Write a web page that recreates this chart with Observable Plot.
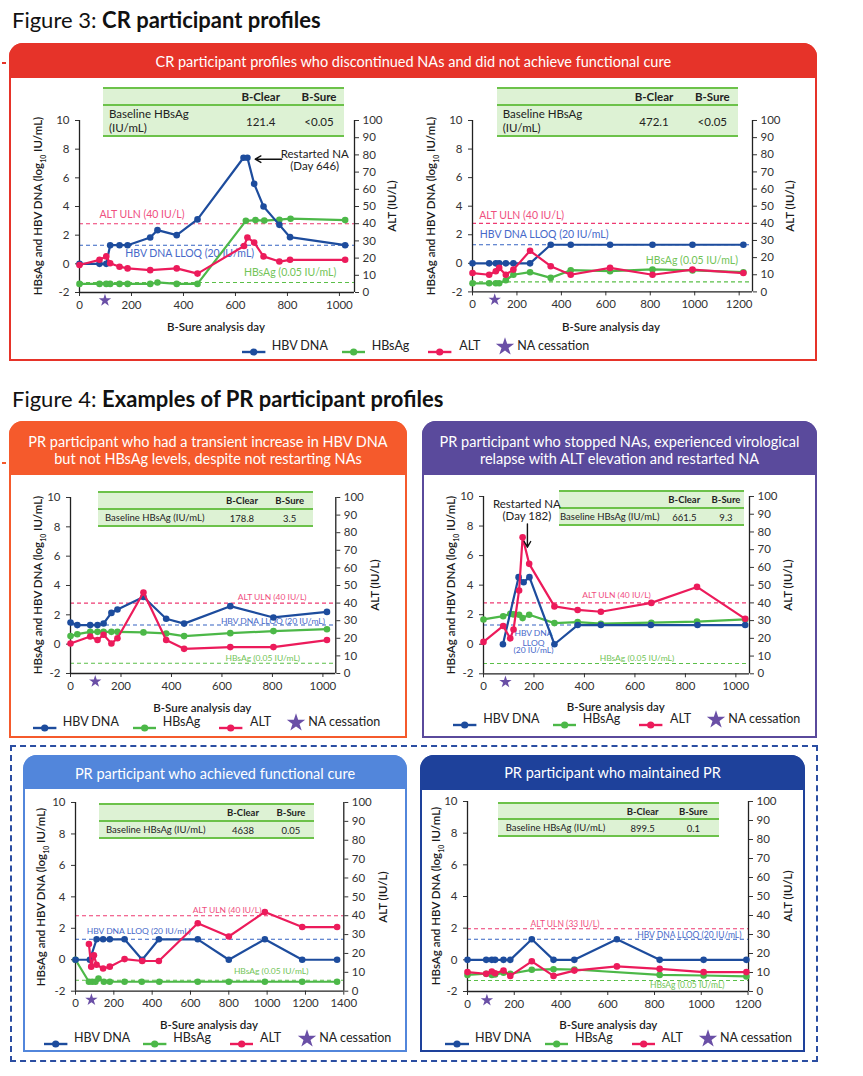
<!DOCTYPE html>
<html><head><meta charset="utf-8">
<script src="https://cdn.jsdelivr.net/npm/d3@7"></script>
<script src="https://cdn.jsdelivr.net/npm/@observablehq/plot@0.6"></script>
<style>
body{margin:0;background:#fff;font-family:Lato,"Noto Sans",sans-serif;}
#root{position:relative;width:863px;height:1076px;overflow:hidden;background:#fff;}
</style></head>
<body><div id="root"></div>
<script>
// ---------------- DATA ----------------
// Panel 1: CR participant (left)
const p1DnaDays = [0,77,103,118,154,185,272,300,374,454,631,646,672,708,769,810,1022];
const p1Dna     = [0,0,0,1.3,1.3,1.3,1.84,2.35,2.0,3.1,7.4,7.4,5.58,4.0,2.72,1.86,1.3];
const p1HbsDays = [0,77,103,118,154,185,272,300,374,454,640,677,711,769,812,1022];
const p1Hbs     = [-1.4,-1.4,-1.4,-1.4,-1.4,-1.4,-1.4,-1.3,-1.4,-1.4,3.0,3.05,3.02,3.08,3.15,3.05];
const p1AltDays = [0,77,103,118,154,185,272,374,454,633,646,672,708,769,810,1022];
const p1Alt     = [16,19,21,17,15,14,13,14,11,27,32,29,21,18,19,19];
// Panel 2: CR participant (right)
const p2Days    = [0,75,105,120,150,184,259,352,442,619,810,990,1219];
const p2Dna     = [0,0,0,0,0,0,0,1.3,1.3,1.3,1.3,1.3,1.3];
const p2Hbs     = [-1.4,-1.4,-1.4,-1.4,-1.18,-0.8,-0.62,-1.02,-0.48,-0.55,-0.43,-0.5,-0.62];
const p2Alt     = [11,10,12,14,10,13,24,15,10,14,10,13,11];
// Panel 3: PR transient increase
const p3Days    = [0,27,78,107,131,162,186,289,379,450,633,804,1016];
const p3Dna     = [1.48,1.3,1.3,1.3,1.41,2.13,2.36,3.22,1.73,1.4,2.59,1.82,2.2];
const p3Hbs     = [0.55,0.68,0.84,0.84,0.84,0.84,0.84,0.8,0.73,0.55,0.75,0.89,1.02];
const p3AltDays = [0,78,107,131,162,186,289,379,450,633,804,1016];
const p3Alt     = [17,21,19,22,17,20,46,19,14,15,15,19];
// Panel 4: PR relapse, restarted NA
const p4DnaDays = [77,139,159,182,281,373,465,663,848,1037];
const p4Dna     = [0,4.54,4.2,4.54,0,1.3,1.3,1.3,1.3,1.3];
const p4Days    = [0,78,106,119,141,155,181,281,373,465,665,846,1037];
const p4Hbs     = [1.68,1.9,2.06,2.02,2.0,1.77,2.0,1.43,1.5,1.39,1.46,1.53,1.68];
const p4Alt     = [18,27,20,25,47,77,62,38,36,35,40,49,31];
// Panel 5: PR functional cure
const p5DnaDays = [0,75,110,144,179,256,348,435,638,800,988,1183,1365];
const p5Dna     = [0,0,1.3,1.3,1.3,1.3,0,1.3,1.3,0,1.3,0,0];
const p5HbsDays = [0,70,87,104,120,148,179,256,346,437,638,800,988,1183,1365];
const p5Hbs     = [0,-1.4,-1.4,-1.4,-1.2,-1.4,-1.4,-1.4,-1.4,-1.4,-1.4,-1.4,-1.4,-1.4,-1.4];
const p5AltDays = [70,82,96,110,144,179,256,348,435,638,800,988,1183,1365];
const p5Alt     = [25,13,19,14,12,13,17,16,16,36,29,42,34,34];
// Panel 6: PR maintained
const p6Days    = [0,80,104,118,154,183,275,368,457,639,822,1010,1193];
const p6Dna     = [0,0,0,0,0,0,1.3,0,0,1.3,0,0,0];
const p6HbsDays = [0,80,104,118,154,183,275,368,457,822,1010,1193];
const p6Hbs     = [-0.95,-0.88,-0.95,-0.92,-0.82,-0.88,-0.63,-0.59,-0.61,-0.95,-0.99,-1.05];
const p6Alt     = [10.2,9.3,10.5,9.6,11,8.2,15.9,8.2,11,13.2,11.9,10.2,10.2];
// NA cessation day per panel
const starDays  = [98,100,98,87,83,83];
// ALT ULN per panel (IU/L)
const altUln    = [40,40,40,40,40,33];
// Baseline HBsAg table values
const tableClear = ["121.4","472.1","178.8","661.5","4638","899.5"];
const tableSure  = ["<0.05","<0.05","3.5","9.3","0.05","0.1"];
// tick labels
const leftTicks = [-2,0,2,4,6,8,10];
const altTicks  = [0,10,20,30,40,50,60,70,80,90,100];
const xTicks1000 = [0,200,400,600,800,1000];
const xTicks1200 = [0,200,400,600,800,1000,1200];
const xTicks1400 = [0,200,400,600,800,1000,1200,1400];
const legendLabels = ["HBV DNA","HBsAg","ALT","NA cessation"];
// --------------------------------------

const FONT = 'Lato, "Noto Sans", sans-serif';
const BLUE="#1d4c9d", GREEN="#4cb848", PINK="#ec1b5b", PURPLE="#6a4fa6";
const C_ULN="#ee3a72", C_LLOQ="#3563c2", C_HBS="#5bbf48";
const L_ULN="#f0507f", L_LLOQ="#4769c9", L_HBS="#72c457";
const root = document.getElementById("root");
function div(style, html){const d=document.createElement("div");d.style.cssText="position:absolute;"+style;if(html!=null)d.innerHTML=html;root.appendChild(d);return d;}
const toY = a => -2 + a*0.12;

// titles
div(`left:12px;top:7px;font-size:22px;line-height:26px;color:#111;white-space:nowrap;`, `Figure 3: <b>CR participant profiles</b>`);
div(`left:12px;top:386px;font-size:22px;line-height:26px;color:#111;white-space:nowrap;`, `Figure 4: <b>Examples of PR participant profiles</b>`);
div(`left:2px;top:62px;width:4px;height:1.5px;background:#e63329;`);
div(`left:2px;top:462px;width:4px;height:1.5px;background:#f55a2c;`);

// dashed group box
div(`left:10px;top:745px;width:808px;height:317px;box-sizing:border-box;border:2.5px dashed #2b4ea2;`);

function box(l,t,r,b,hb,color,lines,ty){
  div(`left:${l}px;top:${t}px;width:${r-l}px;height:${b-t}px;box-sizing:border-box;border:2.5px solid ${color};border-radius:14px 14px 0 0;background:#fff;`);
  div(`left:${l}px;top:${t}px;width:${r-l}px;height:${hb-t}px;background:${color};border-radius:14px 14px 0 0;`);
  lines.forEach((s,i)=>div(`left:${l}px;width:${r-l}px;top:${ty[i]-10}px;height:20px;line-height:20px;text-align:center;color:#fff;font-size:14.5px;white-space:nowrap;`, s));
}
box(9.3,42.7,817.3,361,77.7,"#e63329",["CR participant profiles who discontinued NAs and did not achieve functional cure"],[62]);
box(9.3,420.7,406.7,738.3,475,"#f55a2c",["PR participant who had a transient increase in HBV DNA","but not HBsAg levels, despite not restarting NAs"],[441.7,459.3]);
box(421.7,420.7,817.3,738.3,475,"#5a4a9c",["PR participant who stopped NAs, experienced virological","relapse with ALT elevation and restarted NA"],[441.7,459.3]);
box(22.7,755,407.3,1052.3,789.3,"#5286db",["PR participant who achieved functional cure"],[774]);
box(420,755,805,1052.3,790,"#1e419b",["PR participant who maintained PR"],[773.3]);

function cell(txt,cx,cy,style){div(`left:${cx}px;top:${cy}px;transform:translate(-50%,-50%);white-space:nowrap;${style}`,txt);}
function table(t,i){
  const G="#6cc24a";
  div(`left:${t.l}px;top:${t.t}px;width:${t.r-t.l}px;height:${t.b-t.t}px;background:#ddf2d4;box-sizing:border-box;border-top:2px solid ${G};border-bottom:2px solid ${G};`);
  div(`left:${t.l}px;top:${t.hb-1}px;width:${t.r-t.l}px;height:2px;background:${G};`);
  const fs=t.fs, hy=(t.t+t.hb)/2, by=(t.hb+t.b)/2;
  cell("B-Clear",t.c1,hy,`font-size:${fs}px;font-weight:700;color:#222;`);
  cell("B-Sure",t.c2,hy,`font-size:${fs}px;font-weight:700;color:#222;`);
  if(t.two){
    div(`left:${t.lx}px;top:${by-14}px;font-size:${fs}px;line-height:14px;color:#222;white-space:nowrap;`,"Baseline HBsAg<br>(IU/mL)");
  } else {
    div(`left:${t.lx}px;top:${by-8}px;font-size:${fs}px;line-height:16px;color:#222;white-space:nowrap;`,"Baseline HBsAg (IU/mL)");
  }
  cell(tableClear[i],t.c1,by,`font-size:${fs}px;color:#222;`);
  cell(tableSure[i].replace("<","&lt;"),t.c2,by,`font-size:${fs}px;color:#222;`);
}

function chart(c,i){
  const mL=50,mR=50,mT=14,mB=30;
  const w=c.x1-c.x0, h=c.y1-c.y0;
  const dna=c.dnaDays.map((d,k)=>({day:d,v:c.dna[k]}));
  const hbs=c.hbsDays.map((d,k)=>({day:d,v:c.hbs[k]}));
  const alt=c.altDays.map((d,k)=>({day:d,v:toY(c.alt[k])}));
  const dash={strokeWidth:1.1,strokeDasharray:"4,3"};
  const colorOf={uln:L_ULN,lloq:L_LLOQ,hbs:L_HBS,note:"#222"};
  const marks=[
    Plot.ruleY([toY(altUln[i])],{stroke:C_ULN,...dash}),
    Plot.ruleY([Math.log10(20)],{stroke:C_LLOQ,...dash}),
    Plot.ruleY([Math.log10(0.05)],{stroke:C_HBS,...dash}),
    ...c.labels.map(l=>Plot.text([l],{x:"day",y:"v",text:"text",fill:colorOf[l.kind],textAnchor:l.anchor||"middle",fontSize:l.kind==="note"?c.noteSize:c.lblSize})),
    Plot.axisY(leftTicks,{anchor:"left",tickSize:4,tickPadding:6,tickFormat:d=>String(d),label:null,fontSize:11.5}),
    Plot.axisY(altTicks.map(toY),{anchor:"right",tickSize:4,tickPadding:4,tickFormat:d=>String(Math.round((d+2)/0.12)),label:null,fontSize:11.5}),
    Plot.axisX(c.xticks,{anchor:"bottom",tickSize:4,tickPadding:4,tickFormat:d=>String(d),label:null,fontSize:11.5}),
    Plot.ruleX([0],{stroke:"#222",strokeWidth:1.3}),
    Plot.ruleX([c.xmax],{stroke:"#222",strokeWidth:1.3}),
    Plot.ruleY([-2],{stroke:"#222",strokeWidth:1.3}),
    Plot.line(hbs,{x:"day",y:"v",stroke:GREEN,strokeWidth:2.2}),
    Plot.dot(hbs,{x:"day",y:"v",fill:GREEN,r:3.3}),
    Plot.line(dna,{x:"day",y:"v",stroke:BLUE,strokeWidth:2.2}),
    Plot.dot(dna,{x:"day",y:"v",fill:BLUE,r:3.3}),
    Plot.line(alt,{x:"day",y:"v",stroke:PINK,strokeWidth:2.2}),
    Plot.dot(alt,{x:"day",y:"v",fill:PINK,r:3.3}),
    Plot.dot([{day:starDays[i],v:-2.55}],{x:"day",y:"v",symbol:"star",fill:PURPLE,r:3.9}),
  ];
  if(c.arrows) marks.push(Plot.arrow(c.arrows,{x1:"xa",y1:"ya",x2:"xb",y2:"yb",stroke:"#111",strokeWidth:1.4,headLength:7}));
  const svg=Plot.plot({width:w+mL+mR,height:h+mT+mB,marginLeft:mL,marginRight:mR,marginTop:mT,marginBottom:mB,
    x:{domain:[0,c.xmax],axis:null},y:{domain:[-2,10],axis:null},
    style:{fontFamily:FONT,fontSize:"11.5px",color:"#333",background:"transparent",overflow:"visible"},marks});
  svg.style.position="absolute";svg.style.left=(c.x0-mL)+"px";svg.style.top=(c.y0-mT)+"px";
  root.appendChild(svg);
  // axis titles
  const cy=(c.y0+c.y1)/2;
  const ts="font-size:11.5px;font-weight:600;color:#1a1a1a;white-space:nowrap;";
  cell(`HBsAg and HBV DNA (log<sub style="font-size:7px;">10</sub> IU/mL)`,c.ltx,cy,ts+"transform:translate(-50%,-50%) rotate(-90deg);");
  cell(`ALT (IU/L)`,c.rtx,cy,ts+"transform:translate(-50%,-50%) rotate(-90deg);");
  cell(`B-Sure analysis day`,c.xtx,c.xty,ts);
}

function legend(y,xs){
  const kinds=[BLUE,GREEN,PINK];
  for(let k=0;k<3;k++){
    const [a,b,t]=xs[k];
    div(`left:${a}px;top:${y-5}px;width:${b-a}px;height:10px;`,`<svg width="${b-a}" height="10"><line x1="0" y1="5" x2="${b-a}" y2="5" stroke="${kinds[k]}" stroke-width="2.4"/><circle cx="${(b-a)/2}" cy="5" r="3.6" fill="${kinds[k]}"/></svg>`);
    div(`left:${t}px;top:${y-9}px;font-size:12.5px;line-height:18px;color:#222;white-space:nowrap;`,legendLabels[k]);
  }
  const [sc,st]=xs[3];
  const p=d3.symbol(d3.symbolStar,105)();
  div(`left:${sc-10}px;top:${y-10}px;width:20px;height:20px;`,`<svg width="20" height="20"><path transform="translate(10,10.8)" d="${p}" fill="${PURPLE}"/></svg>`);
  div(`left:${st}px;top:${y-9}px;font-size:12.5px;line-height:18px;color:#222;white-space:nowrap;`,legendLabels[3]);
}

const panels=[
 {x0:79.3,x1:354.3,y0:120,y1:292,xmax:1058,xticks:xTicks1000,dnaDays:p1DnaDays,dna:p1Dna,hbsDays:p1HbsDays,hbs:p1Hbs,altDays:p1AltDays,alt:p1Alt,
  lblSize:10.5,noteSize:11.5,ltx:39.3,rtx:390.7,xtx:216,xty:326,
  labels:[{text:"ALT ULN (40 IU/L)",day:77,v:3.46,kind:"uln",anchor:"start"},{text:"HBV DNA LLOQ (20 IU/mL)",day:176,v:0.7,kind:"lloq",anchor:"start"},{text:"HBsAg (0.05 IU/mL)",day:633,v:-0.6,kind:"hbs",anchor:"start"},
          {text:"Restarted NA",day:905,v:7.63,kind:"note"},{text:"(Day 646)",day:905,v:6.8,kind:"note"}],
  arrows:[{xa:778,ya:7.3,xb:676,yb:7.3}],
  table:{l:103.3,t:86.7,r:344.3,b:136.7,hb:105,lx:109,c1:260.7,c2:319,fs:11.5,two:true}},
 {x0:471.7,x1:751.7,y0:120.3,y1:291.7,xmax:1260,xticks:xTicks1200,dnaDays:p2Days,dna:p2Dna,hbsDays:p2Days,hbs:p2Hbs,altDays:p2Days,alt:p2Alt,
  lblSize:10.5,noteSize:11.5,ltx:431.7,rtx:789.3,xtx:611,xty:325.7,
  labels:[{text:"ALT ULN (40 IU/L)",day:30,v:3.37,kind:"uln",anchor:"start"},{text:"HBV DNA LLOQ (20 IU/mL)",day:33,v:2.04,kind:"lloq",anchor:"start"},{text:"HBsAg (0.05 IU/mL)",day:780,v:0.17,kind:"hbs",anchor:"start"}],
  table:{l:497.3,t:86.7,r:738.3,b:136.7,hb:105,lx:502.7,c1:654,c2:712.3,fs:11.5,two:true}},
 {x0:69.7,x1:335,y0:497.3,y1:673.3,xmax:1051,xticks:xTicks1000,dnaDays:p3Days,dna:p3Dna,hbsDays:p3Days,hbs:p3Hbs,altDays:p3AltDays,alt:p3Alt,
  lblSize:8.5,noteSize:11.5,ltx:39.3,rtx:374,xtx:202.3,xty:706.7,
  labels:[{text:"ALT ULN (40 IU/L)",day:799,v:3.22,kind:"uln"},{text:"HBV DNA LLOQ (20 IU/mL)",day:802,v:1.59,kind:"lloq"},{text:"HBsAg (0.05 IU/mL)",day:762,v:-0.97,kind:"hbs"}],
  table:{l:97.7,t:491,r:313.3,b:526.7,hb:509.3,lx:105,c1:242,c2:289.7,fs:9.5,two:false}},
 {x0:483.3,x1:749.3,y0:496,y1:673.3,xmax:1054,xticks:xTicks1000,dnaDays:p4DnaDays,dna:p4Dna,hbsDays:p4Days,hbs:p4Hbs,altDays:p4Days,alt:p4Alt,
  lblSize:8.5,noteSize:11.5,ltx:452.3,rtx:786.7,xtx:615.7,xty:706,
  labels:[{text:"ALT ULN (40 IU/L)",day:527,v:3.3,kind:"uln"},{text:"HBV DNA",day:198,v:0.71,kind:"lloq"},{text:"LLOQ",day:198,v:0.1,kind:"lloq"},{text:"(20 IU/mL)",day:198,v:-0.44,kind:"lloq"},{text:"HBsAg (0.05 IU/mL)",day:608,v:-0.98,kind:"hbs"},
          {text:"Restarted NA",day:172,v:9.46,kind:"note"},{text:"(Day 182)",day:172,v:8.65,kind:"note"}],
  arrows:[{xa:174,ya:8.15,xb:174,yb:6.57}],
  table:{l:559.3,t:490,r:744,b:525.7,hb:507.7,lx:560,c1:684.3,c2:726,fs:9.5,two:false}},
 {x0:75,x1:343.3,y0:802.3,y1:991,xmax:1400,xticks:xTicks1400,dnaDays:p5DnaDays,dna:p5Dna,hbsDays:p5HbsDays,hbs:p5Hbs,altDays:p5AltDays,alt:p5Alt,
  lblSize:8.5,noteSize:11.5,ltx:41.7,rtx:381.7,xtx:209,xty:1024,
  labels:[{text:"ALT ULN (40 IU/L)",day:791,v:3.15,kind:"uln"},{text:"HBV DNA LLOQ (20 IU/mL)",day:330,v:1.83,kind:"lloq"},{text:"HBsAg (0.05 IU/mL)",day:1021,v:-0.73,kind:"hbs"}],
  table:{l:99,t:803.3,r:314.3,b:839,hb:821,lx:106,c1:243,c2:291,fs:9.5,two:false}},
 {x0:467.3,x1:748.3,y0:801,y1:991,xmax:1202,xticks:xTicks1200,dnaDays:p6Days,dna:p6Dna,hbsDays:p6HbsDays,hbs:p6Hbs,altDays:p6Days,alt:p6Alt,
  lblSize:8.5,noteSize:11.5,ltx:437.3,rtx:786.7,xtx:608.3,xty:1024,
  labels:[{text:"ALT ULN (33 IU/L)",day:417,v:2.25,kind:"uln"},{text:"HBV DNA LLOQ (20 IU/mL)",day:949,v:1.58,kind:"lloq"},{text:"HBsAg (0.05 IU/mL)",day:940,v:-1.62,kind:"hbs"}],
  table:{l:498.3,t:801.7,r:719,b:837.3,hb:819.3,lx:505.7,c1:642.7,c2:693.3,fs:9.5,two:false}},
];
panels.forEach((c,i)=>{table(c.table,i);});
panels.forEach((c,i)=>{chart(c,i);});

legend(346,[[242.3,265.7,271.7],[341.7,365,371.7],[428.3,451.7,459.3],[505,517.3]]);
legend(721.7,[[33.3,56.7,62.7],[132.7,156,162.7],[219.3,242.7,250],[296,308.3]]);
legend(719.3,[[453.3,476.7,483.3],[552.7,576,582.7],[639.3,662.7,670],[716,728.3]]);
legend(1038.3,[[44.3,67.7,74],[143.3,166.7,173.3],[230,253.3,260],[306.7,319.3]]);
legend(1038.3,[[445,469,475],[545,568.3,575],[631.7,655,661.7],[708.3,720]]);
</script>
</body></html>
